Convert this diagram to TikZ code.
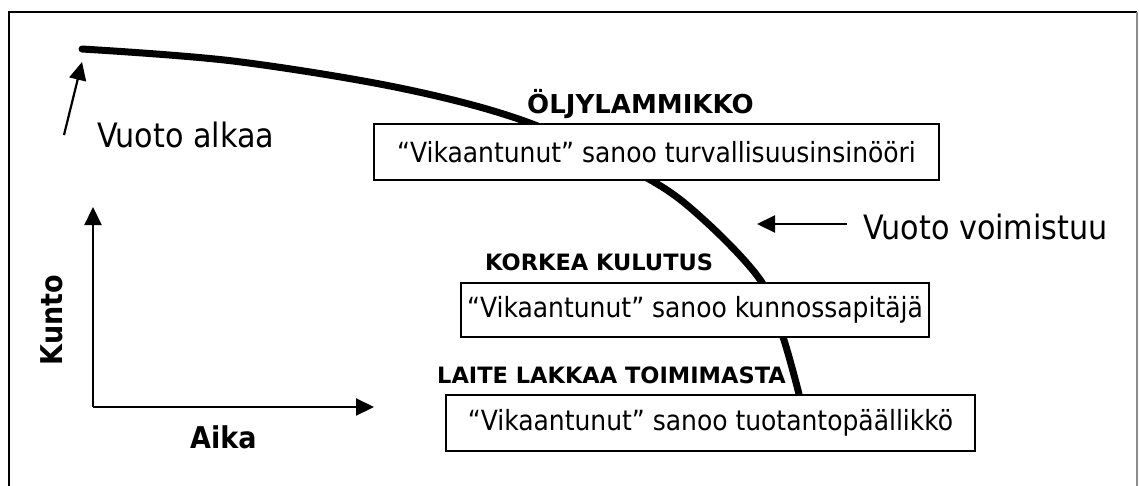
\documentclass[tikz,border=0pt]{standalone}
\usepackage{fontspec}
\setmainfont{DejaVu Sans Condensed}
\newfontfamily\headfont{DejaVu Sans}
\usetikzlibrary{arrows.meta}
\tikzset{
  frameline/.style={line width=2.2pt},
  stage/.style={rectangle, draw, line width=2.2pt, fill=white, inner sep=0pt, font=\fontsize{27.8}{30}\selectfont},
  heading/.style={anchor=base west, inner sep=0pt, font=\headfont\bfseries\fontsize{22.5}{25}\selectfont},
  note/.style={anchor=base west, inner sep=0pt, font=\fontsize{33.6}{36}\selectfont},
  axislabel/.style={inner sep=0pt, font=\bfseries\fontsize{30}{32}\selectfont},
  pointer/.style={line width=2.2pt, -{Triangle[length=18pt, width=17pt]}},
  decay/.style={line width=7pt, line cap=round},
}
\begin{document}
\begin{tikzpicture}[x=1pt, y=-1pt]
\useasboundingbox (0,0) rectangle (1139,485);
% outer frame
\draw[frameline] (9,495) -- (9,12) -- (1137,12);
\draw[line width=2.2pt, black!45] (1137,12) -- (1137,495);

% condition curve
\draw[decay] plot[smooth, tension=0.55] coordinates {
  (82,49) (233,61) (400,88) (527,122) (647,178) (704,220)
  (761,281) (783,337) (799,394)};

% stage boxes
\node[stage, anchor=north west, minimum width=565pt, minimum height=56pt] (b1) at (373,123)
  {“Vikaantunut” sanoo turvallisuusinsinööri};
\node[stage, anchor=north west, minimum width=468pt, minimum height=54pt] (b2) at (460,282)
  {“Vikaantunut” sanoo kunnossapitäjä};
\node[stage, anchor=north west, minimum width=529pt, minimum height=56pt] (b3) at (445,394)
  {“Vikaantunut” sanoo tuotantopäällikkö};

% stage headings
\node[heading, font=\headfont\bfseries\fontsize{26}{28}\selectfont] (h1) at (527,113) {ÖLJYLAMMIKKO};
\node[heading] (h2) at (485,270) {KORKEA KULUTUS};
\node[heading] (h3) at (437,383) {LAITE LAKKAA TOIMIMASTA};

% annotations
\node[note] (n1) at (97,147) {Vuoto alkaa};
\node[note] (n2) at (863,239) {Vuoto voimistuu};
\coordinate (n1tail) at (64,135);
\coordinate (n1tip) at (82,62);
\draw[pointer] (n1tail) -- (n1tip);
\coordinate (n2tail) at (847,224);
\coordinate (n2tip) at (757,224);
\draw[pointer] (n2tail) -- (n2tip);

% axes
\coordinate (o) at (93,407);
\coordinate (ytip) at (93,207);
\coordinate (xtip) at (374,407);
\draw[pointer] (o) -- (ytip);
\draw[pointer] (o) -- (xtip);
\node[axislabel, anchor=base west] (ax) at (190,448) {Aika};
\node[axislabel, rotate=90] (ay) at (52,320) {Kunto};
\end{tikzpicture}
\end{document}
